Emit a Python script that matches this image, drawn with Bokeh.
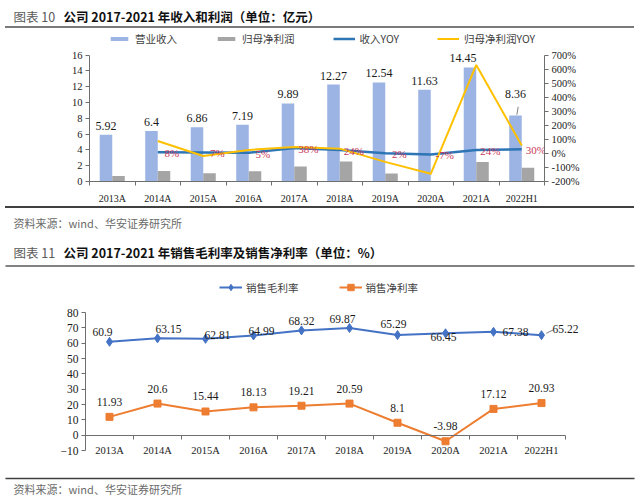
from bokeh.plotting import figure
from bokeh.models import (Range1d, LinearAxis, FixedTicker, PrintfTickFormatter,
                          CustomJSTickFormatter, ColumnDataSource, Legend, LegendItem, Div)
from bokeh.transform import dodge
from bokeh.layouts import column
from bokeh.core.properties import value
from bokeh.embed import file_html
from bokeh.resources import INLINE

# ---------------- data ----------------
categories = ["2013A", "2014A", "2015A", "2016A", "2017A", "2018A", "2019A", "2020A", "2021A", "2022H1"]
revenue = [5.92, 6.4, 6.86, 7.19, 9.89, 12.27, 12.54, 11.63, 14.45, 8.36]
net_profit = [0.71, 1.32, 1.06, 1.30, 1.90, 2.53, 1.02, -0.46, 2.47, 1.75]
revenue_yoy = [float("nan"), 8, 7, 5, 38, 24, 2, -7, 24, 30]
profit_yoy = [float("nan"), 88, -18, 25, 46, 34, -60, -145, 630, 56]

gross_margin = [60.9, 63.15, 62.81, 64.99, 68.32, 69.87, 65.29, 66.45, 67.38, 65.22]
net_margin = [11.93, 20.6, 15.44, 18.13, 19.21, 20.59, 8.1, -3.98, 17.12, 20.93]

y1_ticks = [0, 2, 4, 6, 8, 10, 12, 14, 16]
y1r_ticks = [-200, -100, 0, 100, 200, 300, 400, 500, 600, 700]
y2_ticks = [-10, 0, 10, 20, 30, 40, 50, 60, 70, 80]

# ---------------- styles ----------------
W = 640
CJK = "Noto Sans CJK SC"
SERIF = "Liberation Serif"
BAR_BLUE = "#9BB4E3"
BAR_GRAY = "#A5A5A5"
LINE_BLUE = "#2E75B6"
LINE_YEL = "#FFC000"
RED_TXT = "#C8375A"
AX = "#6E6E6E"
TXT = "#1A1A1A"

n = len(categories)
xc = [i + 0.5 for i in range(n)]
edges = list(range(n + 1))


class Canvas:
    """A strip of the page drawn in pixel units (y measured downward)."""

    def __init__(self, h):
        self.h = h
        self.p = figure(width=W, height=h, x_range=Range1d(0, W), y_range=Range1d(0, h),
                        toolbar_location=None, output_backend="svg",
                        x_axis_location=None, y_axis_location=None, min_border=0,
                        outline_line_color=None, frame_align=False,
                        background_fill_alpha=0, border_fill_alpha=0)
        self.p.grid.grid_line_color = None

    def rule(self, y, color="#595959", w=1.5):
        yy = self.h - y
        self.p.quad(left=[5], right=[634], bottom=[yy - w / 2], top=[yy + w / 2],
                    fill_color=color, line_color=None)

    def text(self, x, y, t, size, color, bold=False):
        self.p.text(x=[x], y=[self.h - y], text=[t], text_font=value(CJK), text_font_size=size,
                    text_font_style="bold" if bold else "normal", text_color=color,
                    text_baseline="middle", text_align="left")

    def title(self, y, num, rest):
        self.text(13, y, num, "12.5px", "#595959")
        self.text(63, y, rest, "12.5px", "#111111", bold=True)

    def footer(self, y):
        self.text(13, y, "资料来源：wind、华安证券研究所", "11px", "#6A6A6A")


def hrule(color, h=2):
    """A thin horizontal rule as a plain block element."""
    return Div(text="", width=629, height=h, margin=(0, 0, 0, 5),
               styles={"background-color": color, "overflow": "hidden"})


def cat_axis(fixed, standoff, size):
    kw = dict(ticker=FixedTicker(ticks=xc, minor_ticks=edges),
              formatter=CustomJSTickFormatter(args=dict(labels=categories),
                                              code="return labels[Math.floor(tick)] || '';"),
              bounds=(0, n))
    if fixed is not None:
        kw["fixed_location"] = fixed
    ax = LinearAxis(**kw)
    ax.major_tick_out = 0
    ax.major_tick_in = 0
    ax.minor_tick_out = 4
    ax.minor_tick_in = 0
    ax.minor_tick_line_color = AX
    ax.axis_line_color = AX
    ax.major_label_standoff = standoff
    ax.major_label_text_font = SERIF
    ax.major_label_text_font_size = size
    ax.major_label_text_color = TXT
    return ax


def val_axis(ticks, bounds, size, range_name="default", fmt=None):
    kw = dict(ticker=FixedTicker(ticks=ticks), bounds=bounds, y_range_name=range_name)
    if fmt is not None:
        kw["formatter"] = fmt
    ax = LinearAxis(**kw)
    ax.major_tick_out = 4
    ax.major_tick_in = 0
    ax.minor_tick_line_color = None
    ax.axis_line_color = AX
    ax.major_tick_line_color = AX
    ax.major_label_standoff = 3
    ax.major_label_text_font = SERIF
    ax.major_label_text_font_size = size
    ax.major_label_text_color = TXT
    return ax


# ---------------- header 1 (y 0..26) + rule (26..28) ----------------
h1 = Canvas(26)
h1.title(16, "图表 10", "公司 2017-2021 年收入和利润（单位：亿元）")
r1 = hrule("#7A7A7A")

# ---------------- chart 1 (y 28..206) ----------------
c1_top, c1_zero, c1_end = 28, 183, 206
k1 = 8.0                                    # px per unit (left)
kr = 128.0 / 900.0                          # px per % (right)
zr = c1_zero - 200 * kr                     # 0% position
p1 = figure(width=W, height=c1_end - c1_top, x_range=Range1d(0, n),
            y_range=Range1d(0, (c1_zero - c1_top) / k1),
            toolbar_location=None, output_backend="svg",
            x_axis_location=None, y_axis_location=None,
            min_border_left=89, min_border_right=96, min_border_top=0,
            min_border_bottom=c1_end - c1_zero,
            outline_line_color=None, frame_align=False,
            background_fill_alpha=0, border_fill_alpha=0)
p1.extra_y_ranges = {"yoy": Range1d(-(c1_zero - zr) / kr, (zr - c1_top) / kr)}
p1.grid.grid_line_color = None

src1 = ColumnDataSource(dict(x=xc, rev=revenue, np=net_profit, ry=revenue_yoy, py=profit_yoy,
                             t=[str(v) for v in revenue],
                             dx=[0, 0, 0, 0, 0, 0, 0, 0, -7, 0],
                             dy=[-5, -5, -5, -5, -5, -5, -5, -5, -5, -17]))
bw = 0.275
r_rev = p1.vbar(x=dodge("x", -bw / 2, range=p1.x_range), top="rev", width=bw, source=src1,
                fill_color=BAR_BLUE, line_color=None)
r_np = p1.vbar(x=dodge("x", bw / 2, range=p1.x_range), top="np", width=bw, source=src1,
               fill_color=BAR_GRAY, line_color=None)
p1.text(x=dodge("x", -bw / 2, range=p1.x_range), y="rev", text="t", source=src1,
        x_offset="dx", y_offset="dy", text_font=value(SERIF), text_font_size="12px",
        text_color=TXT, text_align="center", text_baseline="bottom")
# leader line for last label
p1.segment(x0=[xc[-1] - bw / 2 + 0.03], y0=[revenue[-1] + 0.1],
           x1=[xc[-1] - bw / 2 + 0.06], y1=[revenue[-1] + 1.1],
           line_color="#808080", line_width=1)

r_ry = p1.line(x="x", y="ry", source=src1, y_range_name="yoy", line_color=LINE_BLUE, line_width=2.5)
r_py = p1.line(x="x", y="py", source=src1, y_range_name="yoy", line_color=LINE_YEL, line_width=2)

src1b = ColumnDataSource(dict(x=xc[1:], y=revenue_yoy[1:], t=[f"{v}%" for v in revenue_yoy[1:]]))
p1.text(x="x", y="y", text="t", source=src1b, y_range_name="yoy", x_offset=14, y_offset=1,
        text_font=value(SERIF), text_font_size="11px", text_color=RED_TXT,
        text_align="center", text_baseline="middle")

p1.add_layout(val_axis(y1_ticks, (0, 16), "10.5px"), "left")
p1.add_layout(val_axis(y1r_ticks, (-200, 700), "10.5px", "yoy", PrintfTickFormatter(format="%d%%")), "right")
p1.add_layout(cat_axis(None, 7, "10px"), "below")

leg1 = Legend(items=[LegendItem(label="营业收入", renderers=[r_rev]),
                     LegendItem(label="归母净利润", renderers=[r_np]),
                     LegendItem(label="收入YOY", renderers=[r_ry]),
                     LegendItem(label="归母净利润YOY", renderers=[r_py])],
              orientation="horizontal", location=(19, 135), padding=0, margin=0, spacing=38,
              glyph_width=22, glyph_height=5, label_standoff=5, label_height=12, label_width=10,
              label_text_font=CJK, label_text_font_size="10.5px", label_text_color="#404040",
              border_line_color=None, background_fill_alpha=0)
p1.add_layout(leg1)

# ---------------- rule (206..208) + middle (208..272) ----------------
r2 = hrule("#404040")
mid = Canvas(64)
mid.footer(14)
mid.title(44, "图表 11", "公司 2017-2021 年销售毛利率及销售净利率（单位：%）")
mid.rule(57.5)

# ---------------- chart 2 (y 272..475) ----------------
c2_top, c2_bot, c2_end = 272, 456, 475
k2 = 138.0 / 90.0                 # px per unit, -10 at y=450, 80 at y=312
kx2 = 48.0                        # px per category
p2 = figure(width=W, height=c2_end - c2_top, x_range=Range1d(0, n + 35 / kx2),
            y_range=Range1d(-10 - (c2_bot - 450) / k2, 80 + (312 - c2_top) / k2),
            toolbar_location=None, output_backend="svg",
            x_axis_location=None, y_axis_location=None,
            min_border_left=85, min_border_right=40, min_border_top=0,
            min_border_bottom=c2_end - c2_bot,
            outline_line_color=None, frame_align=False,
            background_fill_alpha=0, border_fill_alpha=0)
p2.grid.grid_line_color = None

src2 = ColumnDataSource(dict(x=xc, g=gross_margin, nm=net_margin,
                             gt=[str(v) for v in gross_margin], nt=[str(v) for v in net_margin],
                             gdx=[-7, 11, 12, 8, 0, -7, -4, -2, 22, 24],
                             gdy=[-10, -9, -4, -5, -9, -9, -11, 4, 0, -6]))
GBLUE = "#4472C4"
ORANGE = "#ED7D31"
p2.add_layout(cat_axis(0, 6, "10.5px"), "below")
p2.add_layout(val_axis(y2_ticks, (-10, 80), "11.5px"), "left")

lg = p2.line(x="x", y="g", source=src2, line_color=GBLUE, line_width=2)
sg = p2.scatter(x="x", y="g", source=src2, marker="diamond", size=9, fill_color=GBLUE, line_color=GBLUE)
ln = p2.line(x="x", y="nm", source=src2, line_color=ORANGE, line_width=2)
sn = p2.scatter(x="x", y="nm", source=src2, marker="square", size=7, fill_color=ORANGE, line_color=ORANGE)
p2.segment(x0=[xc[-1] + 0.1], y0=[gross_margin[-1] + 1.2], x1=[xc[-1] + 0.25], y1=[gross_margin[-1] + 3.5],
           line_color="#808080", line_width=1)

p2.text(x="x", y="g", text="gt", source=src2, x_offset="gdx", y_offset="gdy",
        text_font=value(SERIF), text_font_size="11.5px", text_color=TXT,
        text_align="center", text_baseline="middle")
p2.text(x="x", y="nm", text="nt", source=src2, y_offset=-15,
        text_font=value(SERIF), text_font_size="11.5px", text_color=TXT,
        text_align="center", text_baseline="middle")

leg2 = Legend(items=[LegendItem(label="销售毛利率", renderers=[lg, sg]),
                     LegendItem(label="销售净利率", renderers=[ln, sn])],
              orientation="horizontal", location=(134, 161), padding=0, margin=0, spacing=40,
              glyph_width=23, glyph_height=16, label_standoff=4, label_height=12, label_width=10,
              label_text_font=CJK, label_text_font_size="10.5px", label_text_color="#404040",
              border_line_color=None, background_fill_alpha=0)
p2.add_layout(leg2)

# ---------------- footer 2 (y 475..499) ----------------
f2 = Canvas(24)
f2.rule(3, "#404040")
f2.footer(13)

layout = column(h1.p, r1, p1, r2, mid.p, p2, f2.p, spacing=0)
open("out.html", "w").write(file_html(layout, INLINE))
